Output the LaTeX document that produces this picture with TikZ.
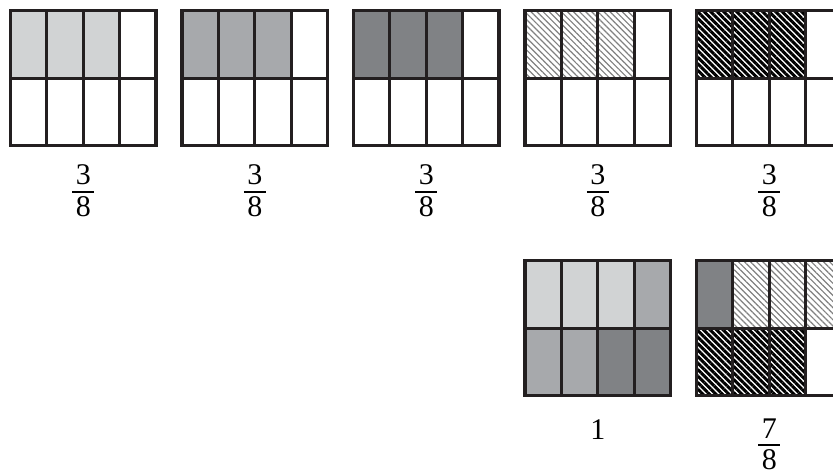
\documentclass[tikz,border=0pt]{standalone}
\usepackage{fontspec}
\setmainfont{Liberation Serif}
\usepackage{tikz}
\usetikzlibrary{
  patterns.meta
}
\definecolor{frLine}{HTML}{231F20}
\definecolor{frLight}{HTML}{D1D3D4}
\definecolor{frMid}{HTML}{A7A9AC}
\definecolor{frDark}{HTML}{808285}
\newcommand\stackfrac[2]{%
  \vbox{\hbox to 22pt{\hfil#1\hfil}\kern5.5pt\hrule height 2pt\kern4pt\hbox to 22pt{\hfil#2\hfil}}}
\tikzset{
  lgray/.style={fill=frLight},
  mgray/.style={fill=frMid},
  dgray/.style={fill=frDark},
  lhatch/.style={pattern={Lines[angle=-45, distance=4.3pt, line width=1.2pt]}, pattern color=black!50},
  dhatch/.style={pattern={Lines[angle=-45, distance=4.6pt, line width=3pt]}, pattern color=black},
  blank/.style={fill=white},
  frame/.style={draw=frLine, line width=3.6pt},
  gridline/.style={draw=frLine, line width=3pt},
  fraclabel/.style={font=\fontsize{30}{36}\selectfont, inner sep=0pt, anchor=base}
}

\begin{document}
\begin{tikzpicture}[x=1pt, y=-1pt]
  \path[use as bounding box] (0,0) rectangle (833,472);
  \clip (0,0) rectangle (833,472);
  \foreach \bx/\by/\cells/\ly/\txt/\n in {
    10.5/10.5/{lgray,lgray,lgray,blank,blank,blank,blank,blank}/216.5/{\stackfrac{3}{8}}/a,
    182/10.5/{mgray,mgray,mgray,blank,blank,blank,blank,blank}/216.5/{\stackfrac{3}{8}}/b,
    353.5/10.5/{dgray,dgray,dgray,blank,blank,blank,blank,blank}/216.5/{\stackfrac{3}{8}}/c,
    525/10.5/{lhatch,lhatch,lhatch,blank,blank,blank,blank,blank}/216.5/{\stackfrac{3}{8}}/d,
    696.5/10.5/{dhatch,dhatch,dhatch,blank,blank,blank,blank,blank}/216.5/{\stackfrac{3}{8}}/e,
    525/260.5/{lgray,lgray,lgray,mgray,mgray,mgray,dgray,dgray}/439/{1}/f,
    696.5/260.5/{dgray,lhatch,lhatch,lhatch,dhatch,dhatch,dhatch,blank}/469.5/{\stackfrac{7}{8}}/g}{
    % cells of the 4x2 grid
    \foreach \st [count=\k from 0] in \cells {
      \pgfmathtruncatemacro\c{mod(\k,4)}
      \pgfmathtruncatemacro\r{div(\k,4)}
      \path[\st] (\bx+\c*36.375, \by+\r*67.5) rectangle ++(36.375,67.5);
    }
    \foreach \c in {1,2,3}
      \draw[gridline] (\bx+\c*36.375, \by) -- ++(0,135);
    \draw[gridline] (\bx, \by+67.5) -- ++(145.5,0);
    \draw[frame] (\bx,\by) rectangle ++(145.5,135);
    \node[fraclabel] (lab-\n) at (\bx+72.75, \ly) {\txt};
  }
\end{tikzpicture}
\end{document}
